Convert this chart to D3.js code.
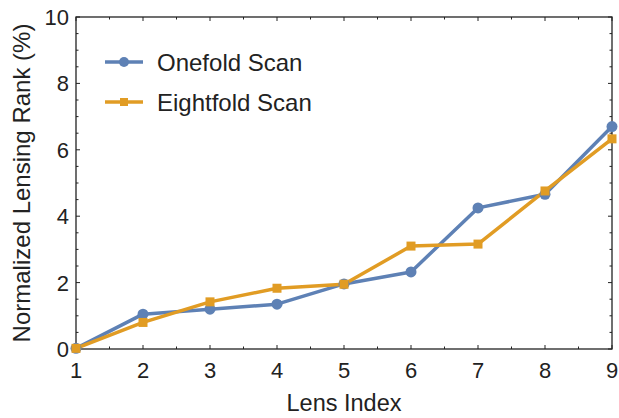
<!DOCTYPE html>
<html><head><meta charset="utf-8">
<script src="https://cdn.jsdelivr.net/npm/d3@7"></script>
<style>body{margin:0;background:#fff}svg{display:block}text{font-family:"Liberation Sans",Arial,sans-serif;fill:#222}</style>
</head><body><svg id="c" width="619" height="418"></svg>
<script>
const lensIndex = [1,2,3,4,5,6,7,8,9];
const onefold = [0.02,1.05,1.2,1.35,1.96,2.32,4.25,4.66,6.7];
const eightfold = [0.02,0.8,1.42,1.83,1.95,3.1,3.16,4.76,6.33];
const xTicks = [1,2,3,4,5,6,7,8,9];
const yTicks = [0,2,4,6,8,10];
const seriesNames = ["Onefold Scan","Eightfold Scan"];
const colors = ["#5E81B5","#E19C24"];

const svg = d3.select("#c");
const L=76,R=612,T=17,B=349;
const x = d3.scaleLinear().domain([1,9]).range([L,R]);
const y = d3.scaleLinear().domain([0,10]).range([B,T]);

// frame
svg.append("rect").attr("x",L).attr("y",T).attr("width",R-L).attr("height",B-T)
  .attr("fill","none").attr("stroke","#222").attr("stroke-width",1.3);

// ticks
const xMinor = d3.range(1,9.01,0.5), yMinor = d3.range(0,10.01,0.5);
const tk = svg.append("g").attr("stroke","#222").attr("stroke-width",1);
xMinor.forEach(v=>{const len = Number.isInteger(v)?4:2.5;
  tk.append("line").attr("x1",x(v)).attr("x2",x(v)).attr("y1",B).attr("y2",B-len);
  tk.append("line").attr("x1",x(v)).attr("x2",x(v)).attr("y1",T).attr("y2",T+len);});
yMinor.forEach(v=>{const len = (v%2===0)?4:2.5;
  tk.append("line").attr("y1",y(v)).attr("y2",y(v)).attr("x1",L).attr("x2",L+len);
  tk.append("line").attr("y1",y(v)).attr("y2",y(v)).attr("x1",R).attr("x2",R-len);});

// tick labels
svg.append("g").selectAll("text").data(xTicks).join("text")
  .attr("x",d=>x(d)).attr("y",B+29).attr("text-anchor","middle")
  .attr("font-size",22).text(d=>d);
svg.append("g").selectAll("text").data(yTicks).join("text")
  .attr("x",L-7).attr("y",d=>y(d)+8).attr("text-anchor","end")
  .attr("font-size",22).text(d=>d);

// axis titles
svg.append("text").attr("x",(L+R)/2).attr("y",411).attr("text-anchor","middle")
  .attr("font-size",23.5).text("Lens Index");
svg.append("text").attr("transform",`translate(30,${(T+B)/2}) rotate(-90)`)
  .attr("text-anchor","middle").attr("font-size",24).text("Normalized Lensing Rank (%)");

// lines
const line = d3.line().x((d,i)=>x(lensIndex[i])).y(d=>y(d));
[onefold,eightfold].forEach((s,k)=>{
  svg.append("path").datum(s).attr("d",line).attr("fill","none")
    .attr("stroke",colors[k]).attr("stroke-width",3.5).attr("stroke-linejoin","round");
});
// markers
svg.append("g").selectAll("circle").data(onefold).join("circle")
  .attr("cx",(d,i)=>x(lensIndex[i])).attr("cy",d=>y(d)).attr("r",5.5).attr("fill",colors[0]);
svg.append("g").selectAll("rect").data(eightfold).join("rect")
  .attr("x",(d,i)=>x(lensIndex[i])-4.5).attr("y",d=>y(d)-4.5).attr("width",9).attr("height",9).attr("fill",colors[1]);

// legend
const lg = svg.append("g");
[62,102].forEach((ly,k)=>{
  lg.append("line").attr("x1",105).attr("x2",143).attr("y1",ly).attr("y2",ly)
    .attr("stroke",colors[k]).attr("stroke-width",3.5);
  if(k===0) lg.append("circle").attr("cx",124).attr("cy",ly).attr("r",5).attr("fill",colors[0]);
  else lg.append("rect").attr("x",120).attr("y",ly-4).attr("width",8).attr("height",8).attr("fill",colors[1]);
  lg.append("text").attr("x",157).attr("y",ly+8.5).attr("font-size",24).text(seriesNames[k]);
});
</script></body></html>
